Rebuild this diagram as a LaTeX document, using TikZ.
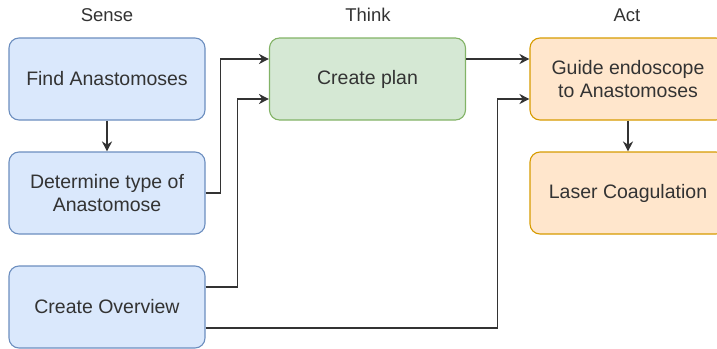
\documentclass[tikz,border=0pt]{standalone}
\usepackage{fontspec}
\setmainfont{Liberation Sans}
\usepackage{xcolor}
\usepackage{tikz}
\usetikzlibrary{arrows.meta}
\usetikzlibrary{positioning}
\definecolor{senseFill}{HTML}{DAE8FC}
\definecolor{senseLine}{HTML}{6C8EBF}
\definecolor{thinkFill}{HTML}{D5E8D4}
\definecolor{thinkLine}{HTML}{82B366}
\definecolor{actFill}{HTML}{FFE6CC}
\definecolor{actLine}{HTML}{D79B00}
\definecolor{txt}{HTML}{333333}

\begin{document}
\begin{tikzpicture}
[x=1pt, y=1pt, >={Stealth[length=10pt,width=10pt]},
 blk/.style={rectangle, rounded corners=10pt, align=center, inner sep=0pt, minimum height=82pt, minimum width=196pt, line width=1.1pt, text=txt, font=\fontsize{19.5}{22.5}\selectfont, node distance=114pt},
 sense/.style={blk, draw=senseLine, fill=senseFill},
 think/.style={blk, draw=thinkLine, fill=thinkFill},
 act/.style={blk, draw=actLine, fill=actFill},
 head/.style={text=txt, font=\fontsize{18.5}{22}\selectfont},
 link/.style={->, line width=1.5pt, draw=txt},]
\useasboundingbox (0,0) rectangle (717,-348);
\clip (0,0) rectangle (717,-348);
\node[head] (hs) at (107,-15) {Sense};
\node[head] (ht) at (368,-15) {Think};
\node[head] (ha) at (627,-15) {Act};
\node[sense] (find) at (107,-79) {Find Anastomoses};
\node[sense] (det) [below of=find] {Determine type of\\ Anastomose};
\node[sense] (ovw) [below of=det] {Create Overview};
\node[think] (plan) at (367.5,-79) {Create plan};
\node[act] (guide) at (628,-79) {Guide endoscope\\ to Anastomoses};
\node[act] (laser) [below of=guide] {Laser Coagulation};
\draw [link] (find) -- (det);
\draw [link] (det.east) -- ++(15,0) |- ([yshift=20pt]plan.west);
\draw [link] ([yshift=20pt]ovw.east) -- ++(32,0) |- ([yshift=-20pt]plan.west);
\draw [link] ([yshift=-21pt]ovw.east) -- ++(292,0) |- ([yshift=-20pt]guide.west);
\draw [link] ([yshift=20pt]plan.east) -- ([yshift=20pt]guide.west);
\draw [link] (guide) -- (laser);
\end{tikzpicture}
\end{document}
